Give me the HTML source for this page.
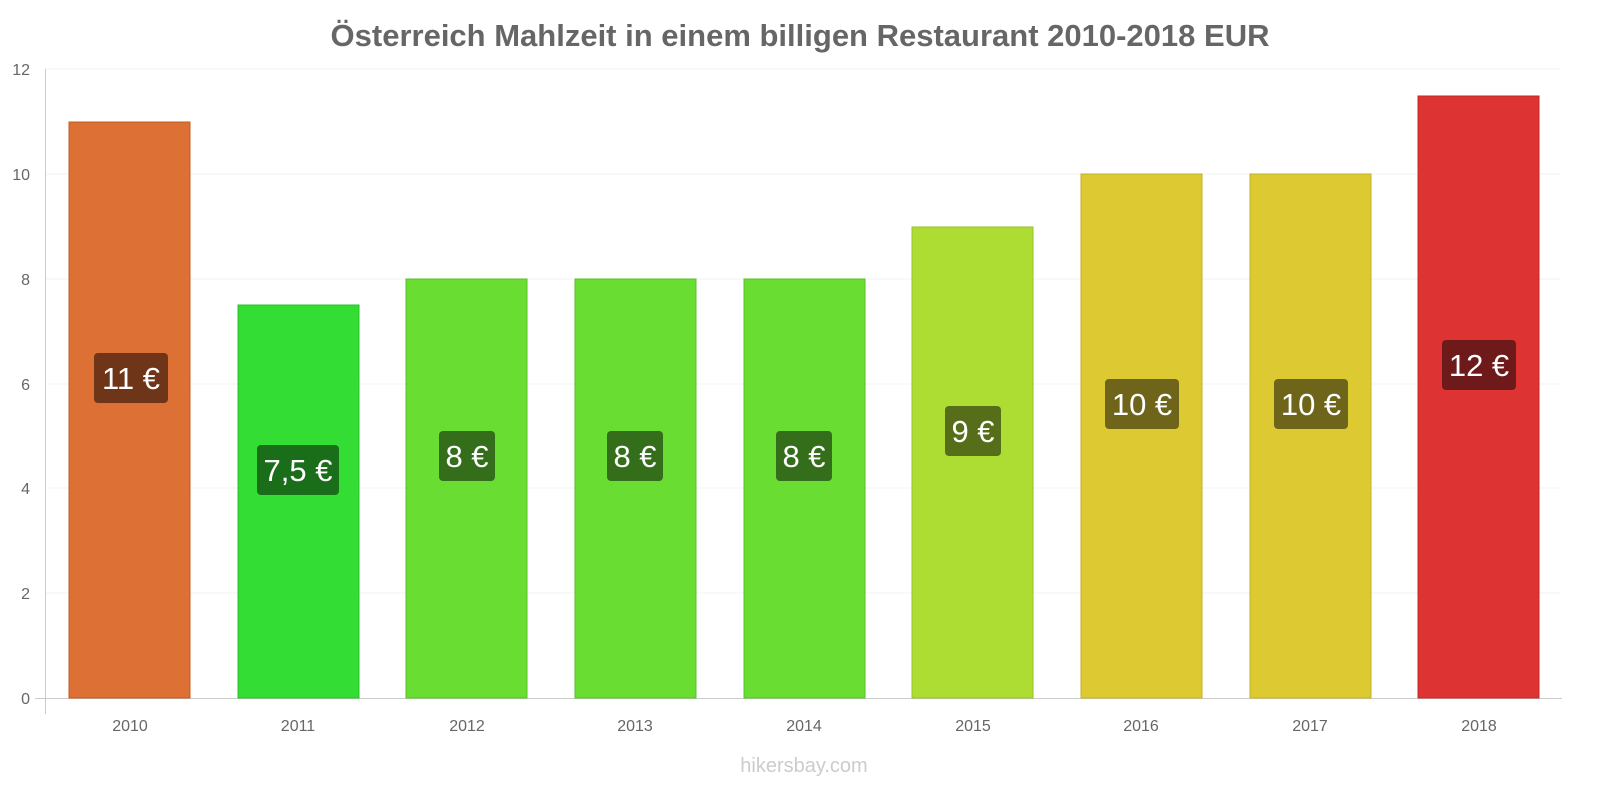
<!DOCTYPE html>
<html><head><meta charset="utf-8"><style>body{margin:0;background:#fff}</style></head><body>
<svg width="1600" height="800" xmlns="http://www.w3.org/2000/svg" font-family="Liberation Sans, sans-serif">
<text x="800" y="46" text-anchor="middle" font-size="31" font-weight="bold" fill="#666">Österreich Mahlzeit in einem billigen Restaurant 2010-2018 EUR</text>
<g stroke="#f3f3f3" stroke-width="1">
<line x1="45" y1="69" x2="1560" y2="69"/><line x1="45" y1="174" x2="1560" y2="174"/><line x1="45" y1="279" x2="1560" y2="279"/><line x1="45" y1="384" x2="1560" y2="384"/><line x1="45" y1="488" x2="1560" y2="488"/><line x1="45" y1="593" x2="1560" y2="593"/>
</g>
<line x1="45.5" y1="69" x2="45.5" y2="714" stroke="#ccc"/>
<line x1="35" y1="698.5" x2="1562" y2="698.5" stroke="#ccc"/>
<g font-size="16" fill="#666" text-anchor="end">
<text x="30" y="75">12</text><text x="30" y="180">10</text><text x="30" y="285">8</text><text x="30" y="390">6</text><text x="30" y="494">4</text><text x="30" y="599">2</text><text x="30" y="704">0</text>
</g>
<g font-size="16" fill="#666" text-anchor="middle">
<text x="130" y="731">2010</text><text x="298" y="731">2011</text><text x="467" y="731">2012</text><text x="635" y="731">2013</text><text x="804" y="731">2014</text><text x="973" y="731">2015</text><text x="1141" y="731">2016</text><text x="1310" y="731">2017</text><text x="1479" y="731">2018</text>
</g>
<rect x="69" y="122" width="121" height="576" fill="#dd7034" stroke="#c05a25"/>
<rect x="238" y="305" width="121" height="393" fill="#33dd33" stroke="#28c028"/>
<rect x="406" y="279" width="121" height="419" fill="#6add33" stroke="#58c028"/>
<rect x="575" y="279" width="121" height="419" fill="#6add33" stroke="#58c028"/>
<rect x="744" y="279" width="121" height="419" fill="#6add33" stroke="#58c028"/>
<rect x="912" y="227" width="121" height="471" fill="#addd33" stroke="#96c028"/>
<rect x="1081" y="174" width="121" height="524" fill="#ddca33" stroke="#c0b028"/>
<rect x="1250" y="174" width="121" height="524" fill="#ddca33" stroke="#c0b028"/>
<rect x="1418" y="96" width="121" height="602" fill="#dd3333" stroke="#c02828"/>
<g font-size="31" fill="#fff" text-anchor="middle">
<rect x="94" y="353" width="74" height="50" rx="4" fill="#6e3519"/><text x="131" y="389">11 €</text>
<rect x="257" y="445" width="82" height="50" rx="4" fill="#1a6e1a"/><text x="298" y="481">7,5 €</text>
<rect x="439" y="431" width="56" height="50" rx="4" fill="#346e1a"/><text x="467" y="467">8 €</text>
<rect x="607" y="431" width="56" height="50" rx="4" fill="#346e1a"/><text x="635" y="467">8 €</text>
<rect x="776" y="431" width="56" height="50" rx="4" fill="#346e1a"/><text x="804" y="467">8 €</text>
<rect x="945" y="406" width="56" height="50" rx="4" fill="#566e1a"/><text x="973" y="442">9 €</text>
<rect x="1105" y="379" width="74" height="50" rx="4" fill="#6e651a"/><text x="1142" y="415">10 €</text>
<rect x="1274" y="379" width="74" height="50" rx="4" fill="#6e651a"/><text x="1311" y="415">10 €</text>
<rect x="1442" y="340" width="74" height="50" rx="4" fill="#6e1a1a"/><text x="1479" y="376">12 €</text>
</g>
<text x="804" y="772" text-anchor="middle" font-size="20" fill="#ccc">hikersbay.com</text>
</svg>
</body></html>
